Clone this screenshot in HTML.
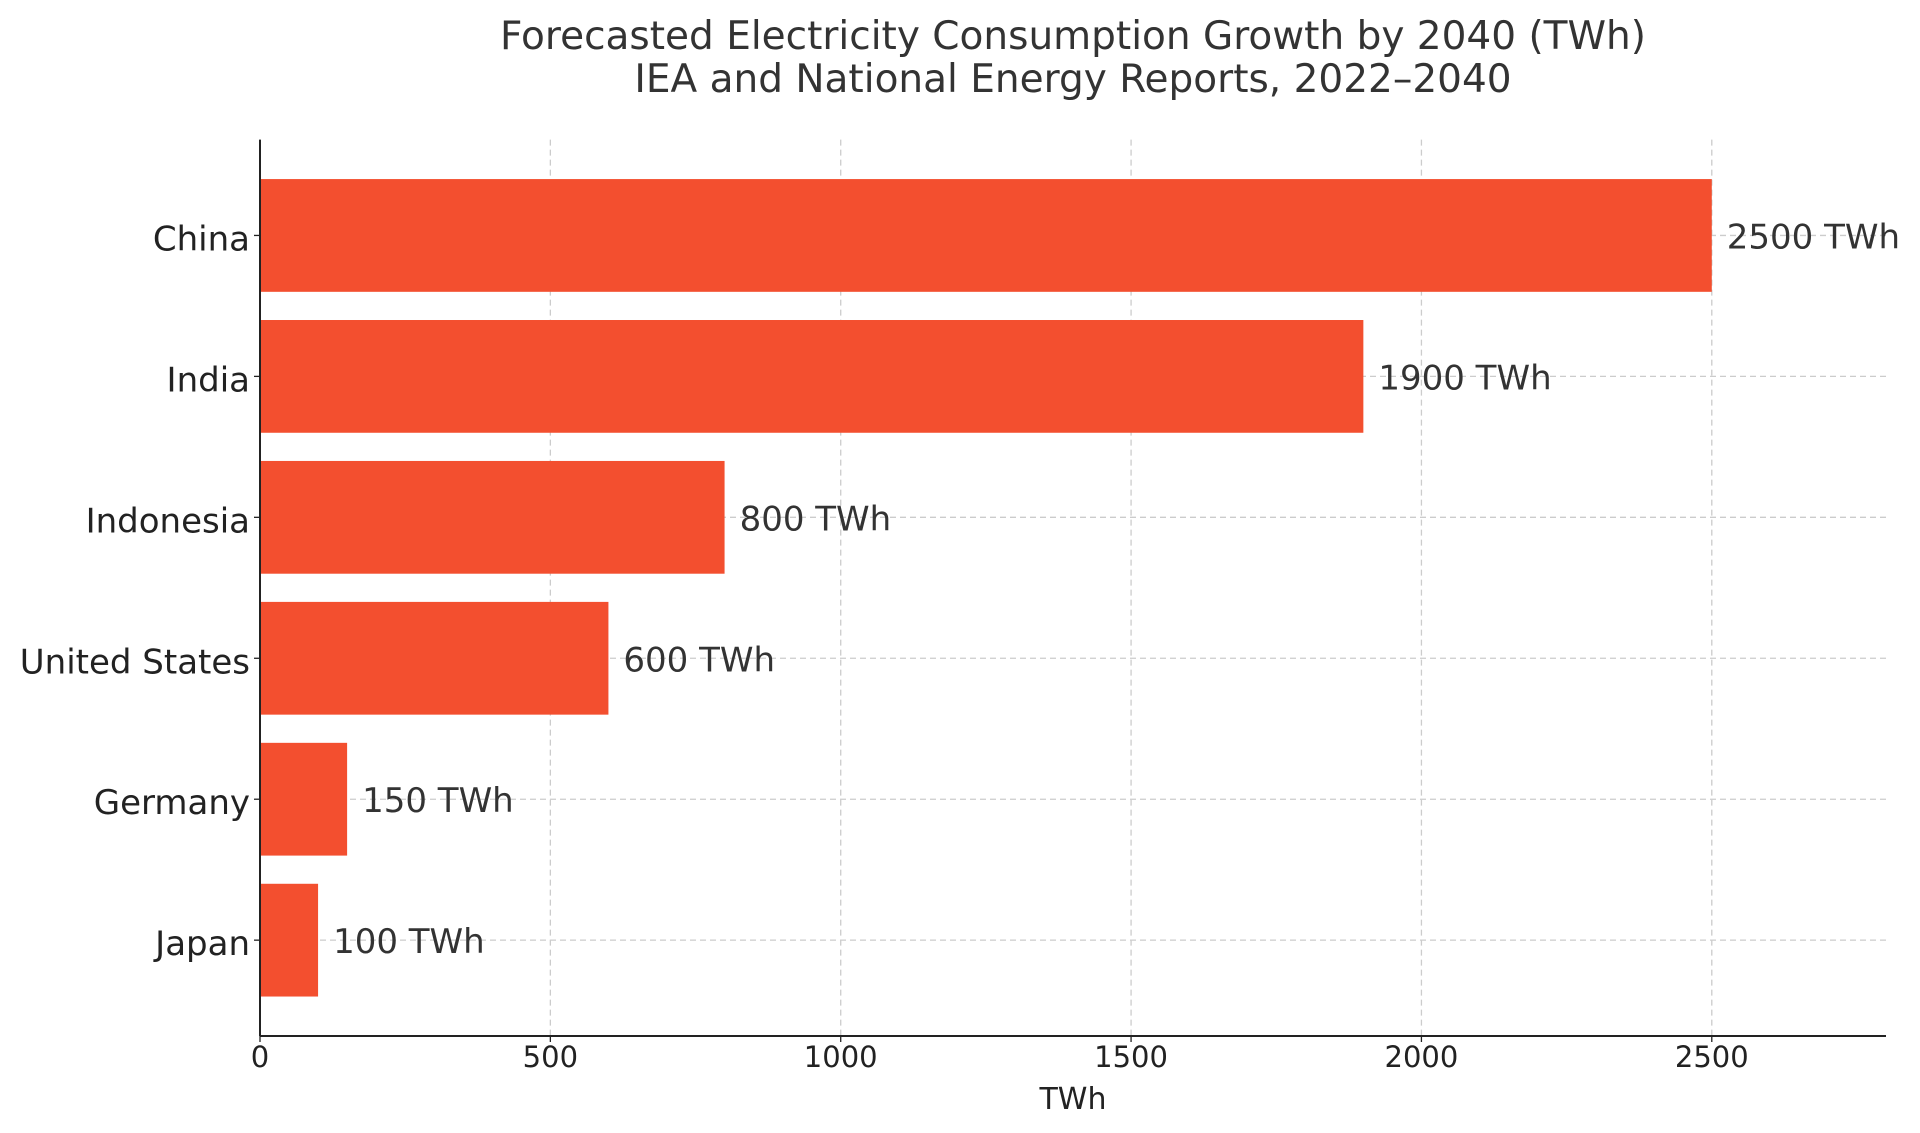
<!DOCTYPE html>
<html><head><meta charset="utf-8"><style>
html,body{margin:0;padding:0;background:#fff;}
svg{display:block;font-family:"DejaVu Sans","Liberation Sans",sans-serif;}
</style></head><body>
<svg id="chart" width="1920" height="1133" viewBox="0 0 1920 1133" xmlns="http://www.w3.org/2000/svg">
<text x="1073" y="49" text-anchor="middle" font-size="39" fill="#333">Forecasted Electricity Consumption Growth by 2040 (TWh)</text>
<text x="1073" y="92" text-anchor="middle" font-size="39" fill="#333">IEA and National Energy Reports, 2022–2040</text>
<g id="grid"></g>
<g id="bars"></g>
<g id="axes"></g>
<text x="1073" y="1109" text-anchor="middle" font-size="30" fill="#222">TWh</text>
</svg>
<script>
const categories = ["China","India","Indonesia","United States","Germany","Japan"];
const values = [2500,1900,800,600,150,100];
const valueLabels = ["2500 TWh","1900 TWh","800 TWh","600 TWh","150 TWh","100 TWh"];
const xTicks = [0,500,1000,1500,2000,2500];

const NS="http://www.w3.org/2000/svg";
const L=260,R=1886,T=139.6,B=1036,XMAX=2800;
const n=categories.length;
const band=(B-T)/(n-1+2*0.68);
function x(v){return L+(v/XMAX)*(R-L);}
function yc(i){return T+band*(0.68+i);}
function mk(tag,attrs,parent){const e=document.createElementNS(NS,tag);for(const k in attrs)e.setAttribute(k,attrs[k]);parent.appendChild(e);return e;}
const grid=document.getElementById('grid'),bars=document.getElementById('bars'),axes=document.getElementById('axes');
xTicks.forEach(t=>{
  const g=mk('line',{x1:x(t),x2:x(t),y1:T,y2:B,stroke:'#ccc','stroke-width':1.3,'stroke-dasharray':'6,4'},grid);
  
  
  const tk=mk('line',{x1:x(t),x2:x(t),y1:B,y2:B+6,stroke:'#222','stroke-width':1.3},axes);
  
  
  const lb=mk('text',{x:x(t),y:B+31,'text-anchor':'middle','font-size':29,fill:'#222'},axes);
  lb.textContent=t;
  
  
});
categories.forEach((c,i)=>{
  const cy=yc(i);
  const g=mk('line',{x1:L,x2:R,y1:cy,y2:cy,stroke:'#ccc','stroke-width':1.3,'stroke-dasharray':'6,4'},grid);
  
  
  const h=band*0.8;
  const r=mk('rect',{x:L,y:cy-h/2,width:x(values[i])-L,height:h,fill:'#F34F2F'},bars);
  
  
  const vl=mk('text',{x:x(values[i])+15,y:cy+13,'font-size':34,fill:'#333'},bars);
  vl.textContent=valueLabels[i];
  
  
  const tk=mk('line',{x1:L-6,x2:L,y1:cy,y2:cy,stroke:'#222','stroke-width':1.3},axes);
  
  
  const lb=mk('text',{x:L-10,y:cy+15,'text-anchor':'end','font-size':34,fill:'#222'},axes);
  lb.textContent=c;
  
  
});
const ya=mk('line',{x1:L,x2:L,y1:T,y2:B,stroke:'#222','stroke-width':2},axes);


const xa=mk('line',{x1:L,x2:R,y1:B,y2:B,stroke:'#222','stroke-width':2},axes);


</script>
</body></html>
